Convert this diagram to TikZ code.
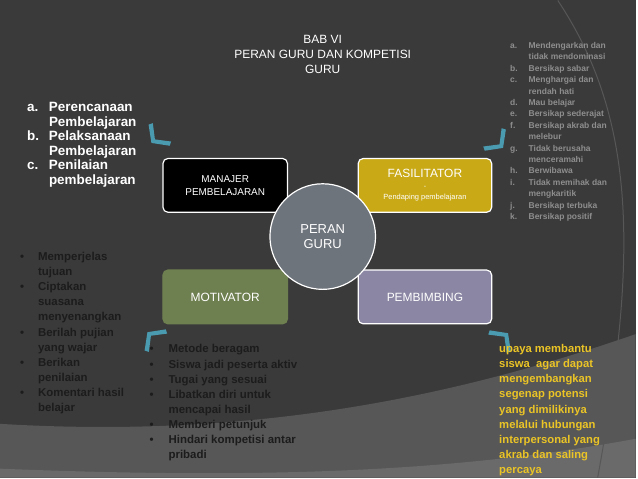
\documentclass[tikz,border=0pt]{standalone}
\usepackage{fontspec}
\setmainfont{Liberation Sans}
\definecolor{bgdark}{HTML}{3A3A3A}
\definecolor{bgband}{HTML}{575757}
\definecolor{bgband2}{HTML}{6A6A6A}
\definecolor{gold}{HTML}{C9A915}
\definecolor{olive}{HTML}{6F8050}
\definecolor{lilac}{HTML}{8A86A3}
\definecolor{slate}{HTML}{6E747C}
\definecolor{teal}{HTML}{4A9AB0}
\definecolor{ylw}{HTML}{EBC426}
\definecolor{greytxt}{HTML}{8E8E8E}
\definecolor{darktxt}{HTML}{1C1C1C}
\tikzset{
 box/.style={draw=white,line width=1.2pt,rounded corners=5pt,minimum width=125pt,minimum height=54pt,anchor=north west,text=white,align=center},
 lst/.style={anchor=north west,align=left,inner sep=0pt,font=\bfseries},
}
\newcommand{\chevron}[3]{\fill[teal,shift={(#1,#2)},rotate=#3] (0,0) -- (-11,-15) -- (-15,-13) -- (-5,0) -- (-15,13) -- (-11,15) -- cycle;}
\begin{document}
\begin{tikzpicture}[x=1pt,y=-1pt]
\fill[bgdark] (0,0) rectangle (638,479);
\fill[bgband] (0,425) .. controls (250,440) and (450,400) .. (638,335) -- (638,479) -- (0,479) -- cycle;
\fill[bgband2] (0,470) .. controls (250,480) and (450,475) .. (638,440) -- (638,479) -- (0,479) -- cycle;
\draw[bgband,line width=1pt] (560,0) .. controls (640,120) and (640,260) .. (600,479);
\node[text=white,align=center,font=\fontsize{12}{15}\selectfont] (title) at (324,54) {BAB VI\\PERAN GURU DAN KOMPETISI\\GURU};
\node[box,fill=black,font=\fontsize{10}{13}\selectfont] (man) at (163,158) {MANAJER\\PEMBELAJARAN};
\node[box,fill=gold,minimum width=134pt] (fas) at (359,158) {\fontsize{12}{14}\selectfont FASILITATOR\\[-1pt]\fontsize{7}{9}\selectfont -\\[-1pt]\fontsize{7.5}{9}\selectfont Pendaping pembelajaran};
\node[box,fill=olive,draw=olive,font=\fontsize{12}{14}\selectfont] (mot) at (163,270) {MOTIVATOR};
\node[box,fill=lilac,minimum width=134pt,font=\fontsize{12}{14}\selectfont] (pem) at (359,270) {PEMBIMBING};
\node[circle,draw=white,line width=1.2pt,fill=slate,minimum size=106pt,text=white,align=center,font=\fontsize{13}{15}\selectfont] (peran) at (324,237) {PERAN\\GURU};
\chevron{152}{143}{225}
\chevron{505}{148}{315}
\chevron{148}{333}{135}
\chevron{510}{334}{45}
\node[lst,text=white,font=\bfseries\fontsize{13.5}{14.6}\selectfont] (la) at (27,101) {\begin{tabular}{@{}l@{\hspace{10pt}}l@{}}a.&Perencanaan\\&Pembelajaran\\b.&Pelaksanaan\\&Pembelajaran\\c.&Penilaian\\&pembelajaran\end{tabular}};
\node[lst,text=greytxt,font=\bfseries\fontsize{8.5}{11.45}\selectfont] (ra) at (512,40) {\begin{tabular}{@{}l@{\hspace{11pt}}l@{}}a.&Mendengarkan dan\\&tidak mendominasi\\b.&Bersikap sabar\\c.&Menghargai dan\\&rendah hati\\d.&Mau belajar\\e.&Bersikap sederajat\\f.&Bersikap akrab dan\\&melebur\\g.&Tidak berusaha\\&menceramahi\\h.&Berwibawa\\i.&Tidak memihak dan\\&mengkaritik\\j.&Bersikap terbuka\\k.&Bersikap positif\end{tabular}};
\node[lst,text=darktxt,font=\bfseries\fontsize{11.5}{15.2}\selectfont] (lb) at (20,250) {\begin{tabular}{@{}l@{\hspace{14pt}}l@{}}•&Memperjelas\\&tujuan\\•&Ciptakan\\&suasana\\&menyenangkan\\•&Berilah pujian\\&yang wajar\\•&Berikan\\&penilaian\\•&Komentari hasil\\&belajar\end{tabular}};
\node[lst,text=darktxt,font=\bfseries\fontsize{11.5}{15.2}\selectfont] (mb) at (150,343) {\begin{tabular}{@{}l@{\hspace{15pt}}l@{}}•&Metode beragam\\•&Siswa jadi peserta aktiv\\•&Tugai yang sesuai\\•&Libatkan diri untuk\\&mencapai hasil\\•&Memberi petunjuk\\•&Hindari kompetisi antar\\&pribadi\end{tabular}};
\node[lst,text=ylw,font=\bfseries\fontsize{11.3}{15.2}\selectfont] (rb) at (501,345) {upaya membantu\\siswa\ \ agar dapat\\mengembangkan\\segenap potensi\\yang dimilikinya\\melalui hubungan\\interpersonal yang\\akrab dan saling\\percaya};
\end{tikzpicture}
\end{document}
